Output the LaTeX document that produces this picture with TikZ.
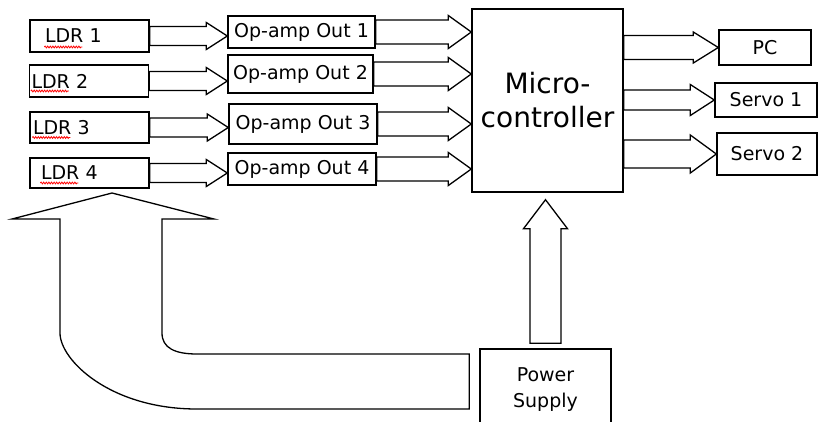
\documentclass[tikz,border=0pt]{standalone}
\usepackage{fontspec}
\setmainfont{DejaVu Sans}
\usetikzlibrary{calc,decorations.pathmorphing}

% hollow block arrow: start, tip, shaft half width, head half width, head length
\newcommand{\blockarrow}[5]{%
    \coordinate (ba-s) at #1;
    \coordinate (ba-t) at #2;
    \coordinate (ba-h) at ($(ba-t)!#5pt!(ba-s)$);
    \draw[blockline] ($(ba-s)!#3pt!90:(ba-t)$) -- ($(ba-h)!#3pt!90:(ba-t)$)
        -- ($(ba-h)!#4pt!90:(ba-t)$) -- (ba-t) -- ($(ba-h)!#4pt!-90:(ba-t)$)
        -- ($(ba-h)!#3pt!-90:(ba-t)$) -- ($(ba-s)!#3pt!-90:(ba-t)$) -- cycle;
}

\begin{document}
\begin{tikzpicture}[x=1pt, y=-1pt,
    box/.style={draw, line width=1.4pt, inner sep=0pt, font=\fontsize{19}{23}\selectfont},
    ldrbox/.style={box, text width=119pt, minimum height=#1, align=left},
    blockline/.style={line width=1.3pt},
    typo/.style={red, line width=0.8pt, decorate,
        decoration={snake, amplitude=0.9pt, segment length=2.6pt}}]

    % Page
    \useasboundingbox[fill=white] (0,0) rectangle (818,421);

    % Sensors
    \node[ldrbox=32pt] (ldr1) at (89.5,36) {\hspace*{15pt}LDR 1};
    \node[ldrbox=32pt] (ldr2) at (89,81) {\hspace*{2pt}LDR 2};
    \node[ldrbox=31pt] (ldr3) at (89.5,127.5) {\hspace*{3pt}LDR 3};
    \node[ldrbox=30pt] (ldr4) at (89.5,173) {\hspace*{11pt}LDR 4};

    % Spelling marks under LDR
    \draw[typo] ($(ldr1.west)+(15,11)$) -- ++(38,0);
    \draw[typo] ($(ldr2.west)+(2,10)$) -- ++(38,0);
    \draw[typo] ($(ldr3.west)+(3,10)$) -- ++(38,0);
    \draw[typo] ($(ldr4.west)+(11,10)$) -- ++(38,0);

    % Amplifiers
    \node[box, minimum width=147pt, minimum height=32pt] (amp1) at (301.5,32) {Op-amp Out 1};
    \node[box, minimum width=145pt, minimum height=38pt] (amp2) at (300.5,74) {Op-amp Out 2};
    \node[box, minimum width=148pt, minimum height=40pt] (amp3) at (303,124) {Op-amp Out 3};
    \node[box, minimum width=148pt, minimum height=32pt] (amp4) at (302,169) {Op-amp Out 4};

    % Controller
    \node[box, minimum width=151pt, minimum height=183pt, align=center,
        font=\fontsize{28}{34}\selectfont] (mcu) at (547.5,100.5) {Micro-\\controller};

    % Outputs
    \node[box, minimum width=92pt, minimum height=35pt] (pc) at (765,47.5) {PC};
    \node[box, minimum width=102pt, minimum height=34pt] (servo1) at (766,100) {Servo 1};
    \node[box, minimum width=100pt, minimum height=42pt] (servo2) at (767,154) {Servo 2};

    % Supply
    \node[box, minimum width=131pt, minimum height=81pt, align=center,
        font=\fontsize{19}{26}\selectfont] (pwr) at (545.5,389.5) {Power\\Supply};

    % Sensor to amplifier
    \blockarrow{(ldr1.east)}{(amp1.west |- ldr1.east)}{9.5}{13.5}{21}
    \blockarrow{(ldr2.east)}{(amp2.west |- ldr2.east)}{9.5}{13.5}{21}
    \blockarrow{(ldr3.east)}{(amp3.west |- ldr3.east)}{9.5}{13.5}{21}
    \blockarrow{(ldr4.east)}{(amp4.west |- ldr4.east)}{9.5}{13.5}{21}

    % Amplifier to controller
    \blockarrow{(amp1.east)}{(mcu.west |- amp1.east)}{12}{16.5}{23}
    \blockarrow{(amp2.east)}{(mcu.west |- amp2.east)}{12}{16.5}{23}
    \blockarrow{(amp3.east)}{(mcu.west |- amp3.east)}{12}{16.5}{23}
    \blockarrow{(amp4.east)}{(mcu.west |- amp4.east)}{12}{16.5}{23}

    % Controller to outputs
    \blockarrow{(mcu.east |- pc.west)}{(pc.west)}{12}{15.5}{25}
    \blockarrow{(mcu.east |- servo1.west)}{(servo1.west)}{10}{15.5}{24}
    \blockarrow{(mcu.east |- servo2.west)}{(servo2.west)}{14}{19}{26}

    % Supply to controller
    \blockarrow{($(pwr.north)+(0,-5)$)}{($(pwr.north |- mcu.south)+(0,7)$)}{15.5}{22}{29}

    % Supply back to the sensors
    \coordinate (feed) at (112,193);
    \draw[blockline] ($(pwr.west)+(-10,-35.5)$) -- (197,354)
        .. controls (175,354) and (162,348) .. (162,333) -- (162,219) -- (214,219)
        -- (feed) -- (12,219) -- (60,219) -- (60,333)
        .. controls (60,360) and (110,409) .. (197,409)
        -- ($(pwr.west)+(-10,19.5)$) -- cycle;

\end{tikzpicture}
\end{document}
